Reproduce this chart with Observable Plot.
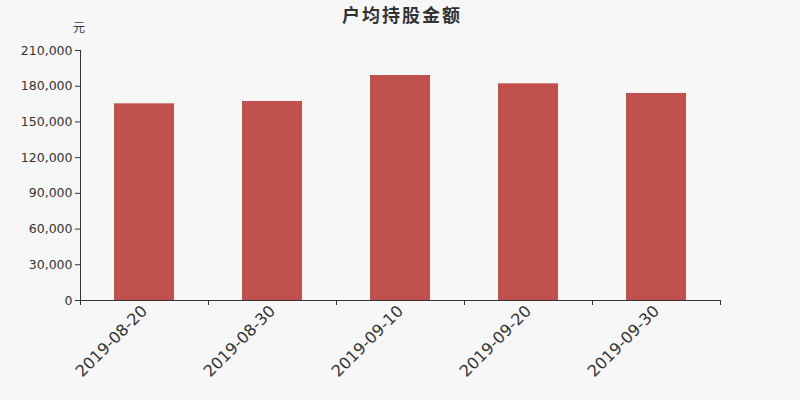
<!DOCTYPE html>
<html><head><meta charset="utf-8">
<script src="https://cdn.jsdelivr.net/npm/d3@7"></script>
<script src="https://cdn.jsdelivr.net/npm/@observablehq/plot@0.6"></script>
<style>
body{margin:0;background:#f7f7f7;font-family:"DejaVu Sans",sans-serif;}
#wrap{position:relative;width:800px;height:400px;background:#f7f7f7;}
#wrap svg{position:absolute;left:0;top:0;}
#title{position:absolute;z-index:2;left:0;top:1px;width:800px;text-align:center;font:bold 18px "Noto Sans CJK SC","DejaVu Sans",sans-serif;line-height:26px;color:#333;letter-spacing:2px;padding-left:2px;}
#unit{position:absolute;z-index:2;left:73px;top:18px;font:12px "Noto Sans CJK SC",sans-serif;color:#333;}
</style></head>
<body><div id="wrap"><div id="title">户均持股金额</div><div id="unit">元</div></div>
<script>
const dates = ["2019-08-20","2019-08-30","2019-09-10","2019-09-20","2019-09-30"];
const values = [165200, 167200, 189000, 182000, 173900];
const yTicks = [0,30000,60000,90000,120000,150000,180000,210000];
const data = dates.map((d,i)=>({date:d, value:values[i]}));
const half = 64;
const chart = Plot.plot({
  width: 800, height: 400,
  marginTop: 50, marginBottom: 100, marginLeft: 80, marginRight: 80,
  style: {background:"#f7f7f7", color:"#333", fontFamily:"DejaVu Sans, sans-serif", fontSize:"12px"},
  x: {domain: dates, paddingInner: 0.531, paddingOuter: 0.2655, label: null},
  y: {domain: [0,210000], label: null},
  marks: [
    Plot.barY(data, {x:"date", y:"value", fill:"#c0504d"}),
    Plot.axisY({ticks: yTicks, tickFormat: d3.format(","), tickSize:5, tickPadding:3, stroke:"#333", fontSize:12.5, color:"#333"}),
    Plot.frame({anchor:"left", stroke:"#333"}),
    Plot.ruleY([0], {stroke:"#333"}),
    Plot.axisX({tickSize:0, tickRotate:-45, tickPadding:8, fontSize:16, color:"#333"}),
    Plot.ruleX(dates, {x: d=>d, y1: 0, y2: 0, dx: -half, insetBottom: -5, stroke:"#333"}),
    Plot.ruleX([dates[dates.length-1]], {x: d=>d, y1: 0, y2: 0, dx: half, insetBottom: -5, stroke:"#333"})
  ]
});
const wrap = document.getElementById("wrap");
wrap.insertBefore(chart, wrap.firstChild);
</script></body></html>
